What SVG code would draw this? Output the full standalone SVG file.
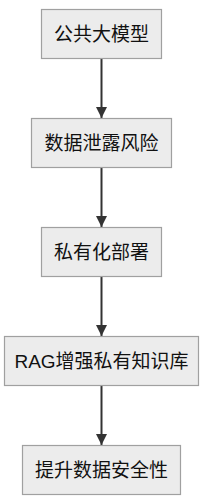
<svg xmlns="http://www.w3.org/2000/svg" width="209" height="504" viewBox="0 0 209 504">
<style>
.box{fill:#ececec;stroke:#a0a0a0;stroke-width:1.2}
.lbl{font-family:"Liberation Sans","Noto Sans CJK SC",sans-serif;font-size:19px;fill:#111;text-anchor:middle;dominant-baseline:central}
.edge{stroke:#333;stroke-width:2;fill:none}
</style>
<defs>
<marker id="arr" markerWidth="12" markerHeight="11" refX="11" refY="5.5" orient="auto" markerUnits="userSpaceOnUse">
<path d="M0,0 L11,5.5 L0,11 z" fill="#333"/>
</marker>
</defs>
<g id="edges">
<line class="edge" x1="101.5" y1="59" x2="101.5" y2="118" marker-end="url(#arr)"/>
<line class="edge" x1="101.5" y1="168" x2="101.5" y2="227" marker-end="url(#arr)"/>
<line class="edge" x1="101.5" y1="277" x2="101.5" y2="336" marker-end="url(#arr)"/>
<line class="edge" x1="101.5" y1="386" x2="101.5" y2="445" marker-end="url(#arr)"/>
</g>
<g id="n1"><rect class="box" x="41.5" y="9.5" width="120" height="49"/><text class="lbl" x="101.5" y="34">公共大模型</text></g>
<g id="n2"><rect class="box" x="31.5" y="118.5" width="140" height="49"/><text class="lbl" x="101.5" y="143">数据泄露风险</text></g>
<g id="n3"><rect class="box" x="41.5" y="227.5" width="120" height="49"/><text class="lbl" x="101.5" y="252">私有化部署</text></g>
<g id="n4"><rect class="box" x="4.5" y="336.5" width="194" height="49"/><text class="lbl" x="101.5" y="361">RAG增强私有知识库</text></g>
<g id="n5"><rect class="box" x="22.5" y="445.5" width="158" height="49"/><text class="lbl" x="101.5" y="470">提升数据安全性</text></g>
</svg>
